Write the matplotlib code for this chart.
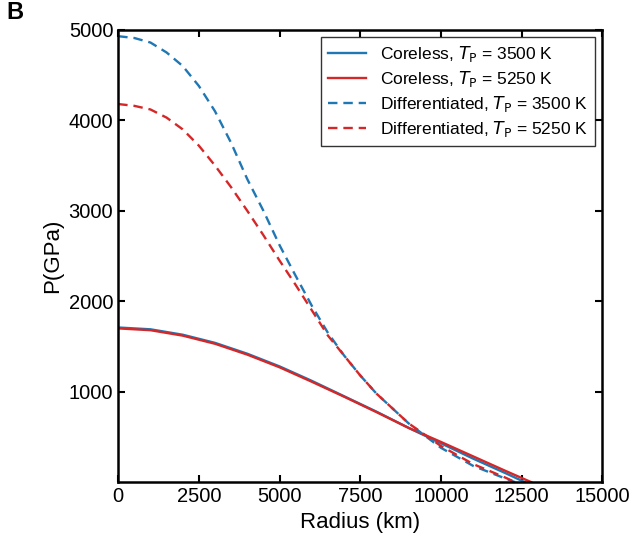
import matplotlib.pyplot as plt

# radius (km) and pressure (GPa)
r_core = [0, 1000, 2000, 3000, 4000, 5000, 6000, 7000, 8000, 9000, 10000, 11000, 12000, 12600]
p_core_3500 = [1710, 1690, 1630, 1540, 1420, 1280, 1120, 950, 780, 600, 430, 260, 100, 0]
r_core_hot = [0, 1000, 2000, 3000, 4000, 5000, 6000, 7000, 8000, 9000, 10000, 11000, 12000, 12800]
p_core_5250 = [1700, 1680, 1620, 1530, 1410, 1270, 1110, 945, 775, 600, 445, 285, 125, 0]

r_diff = [0, 500, 1000, 1500, 2000, 2500, 3000, 3500, 4000, 4500, 5000, 5500, 6000, 6500,
          7000, 7500, 8000, 9000, 10000, 11000, 12000, 12300]
p_diff_3500 = [4930, 4910, 4860, 4750, 4600, 4380, 4100, 3750, 3350, 3000, 2620, 2280, 1950, 1650,
               1400, 1180, 980, 650, 380, 180, 40, 0]
p_diff_5250 = [4180, 4160, 4120, 4030, 3900, 3720, 3500, 3260, 3000, 2730, 2450, 2180, 1900, 1620,
               1400, 1180, 980, 650, 400, 200, 50, 0]

blue = "#1f77b4"
red = "#d62728"

plt.rcParams["font.family"] = "Liberation Sans"
fig = plt.figure(figsize=(6.32, 5.43), dpi=100)
ax = fig.add_axes([0.187, 0.112, 0.766, 0.833])

ax.plot(r_core, p_core_3500, color=blue, lw=1.7, label=r"Coreless, $T_\mathrm{P}$ = 3500 K")
ax.plot(r_core_hot, p_core_5250, color=red, lw=1.7, label=r"Coreless, $T_\mathrm{P}$ = 5250 K")
ax.plot(r_diff, p_diff_3500, color=blue, lw=1.7, ls=(0, (4, 2.5)), label=r"Differentiated, $T_\mathrm{P}$ = 3500 K")
ax.plot(r_diff, p_diff_5250, color=red, lw=1.7, ls=(0, (4, 2.5)), label=r"Differentiated, $T_\mathrm{P}$ = 5250 K")

ax.set_xlim(0, 15000)
ax.set_ylim(0, 5000)
ax.set_xticks(range(0, 15001, 2500))
ax.set_yticks([1000, 2000, 3000, 4000, 5000])
ax.tick_params(direction="in", width=1.5, length=5, labelsize=14.5, top=True, right=True)
for s in ax.spines.values():
    s.set_linewidth(1.8)
ax.set_xlabel("Radius (km)", fontsize=16)
ax.set_ylabel("P(GPa)", fontsize=16)

leg = ax.legend(loc="upper right", fontsize=12.5, fancybox=False, edgecolor="black",
                handlelength=2.2, borderaxespad=0.4, labelspacing=0.3)
leg.get_frame().set_linewidth(1.0)

fig.text(0.01, 0.965, "B", fontsize=17, fontweight="bold")

fig.savefig("out.png", dpi=100)
